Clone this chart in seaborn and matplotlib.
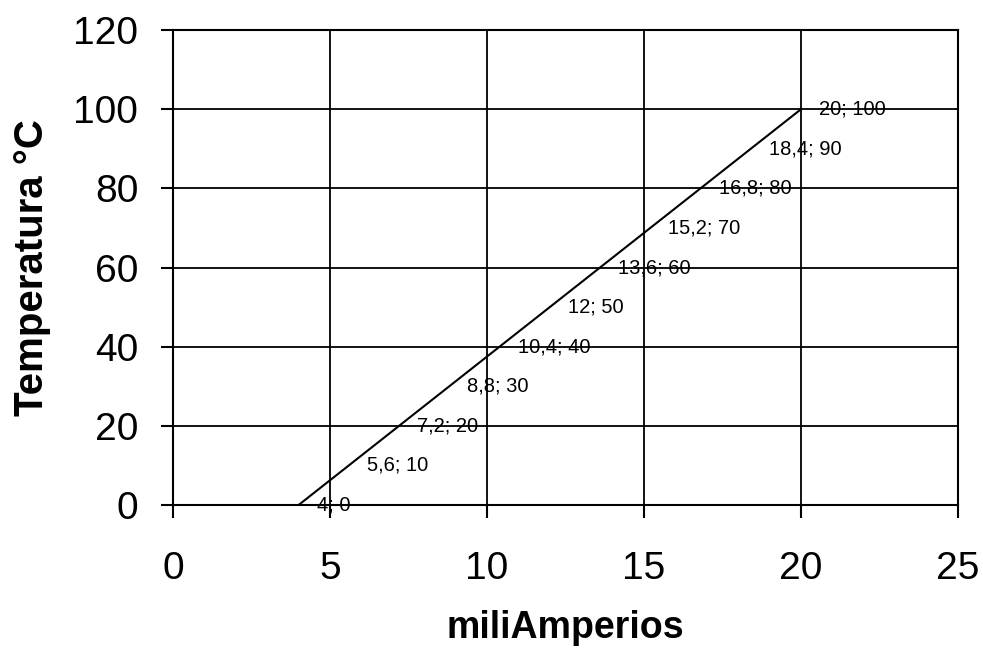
import pandas as pd
import matplotlib.pyplot as plt
import seaborn as sns

# =========================
# DATA
# =========================

corriente_ma = [4, 5.6, 7.2, 8.8, 10.4, 12, 13.6, 15.2, 16.8, 18.4, 20]
temperatura = [0, 10, 20, 30, 40, 50, 60, 70, 80, 90, 100]
etiquetas = ["4; 0", "5,6; 10", "7,2; 20", "8,8; 30", "10,4; 40", "12; 50",
             "13,6; 60", "15,2; 70", "16,8; 80", "18,4; 90", "20; 100"]

x_ticks = [0, 5, 10, 15, 20, 25]
y_ticks = [0, 20, 40, 60, 80, 100, 120]

df = pd.DataFrame({"mA": corriente_ma, "T": temperatura})

# =========================
# STYLE
# =========================

sns.set_style("white")
plt.rcParams['font.family'] = ['Liberation Sans', 'DejaVu Sans']
plt.rcParams['text.color'] = "black"
plt.rcParams['axes.labelcolor'] = "black"
plt.rcParams['xtick.color'] = "black"
plt.rcParams['ytick.color'] = "black"

fig = plt.figure(figsize=(9.83, 6.5), dpi=100)
ax = fig.add_axes([0.176, 0.2231, 0.7986, 0.7307])

# =========================
# LINE
# =========================

sns.lineplot(data=df, x="mA", y="T", color="black", linewidth=1.5, ax=ax)

for xv, yv, txt in zip(corriente_ma, temperatura, etiquetas):
    ax.annotate(txt, (xv, yv), xytext=(13, 0), textcoords="offset points",
                va="center", ha="left", fontsize=14.5, color="black")

# =========================
# AXES
# =========================

ax.set_xlim(0, 25)
ax.set_ylim(0, 120)
ax.set_xticks(x_ticks)
ax.set_yticks(y_ticks)
ax.grid(True, color="black", linewidth=1.3)

for s in ax.spines.values():
    s.set_color("black")
    s.set_linewidth(1.5)

ax.tick_params(axis="x", direction="out", length=9, width=1.5, pad=24,
               labelsize=28, bottom=True)
ax.tick_params(axis="y", direction="out", length=9, width=1.5, pad=16,
               labelsize=28, left=True)

ax.set_xlabel("miliAmperios", fontsize=27, fontweight="bold", labelpad=17)
ax.set_ylabel("Temperatura °C", fontsize=29, fontweight="bold", labelpad=16)

plt.savefig("out.png", dpi=100)
